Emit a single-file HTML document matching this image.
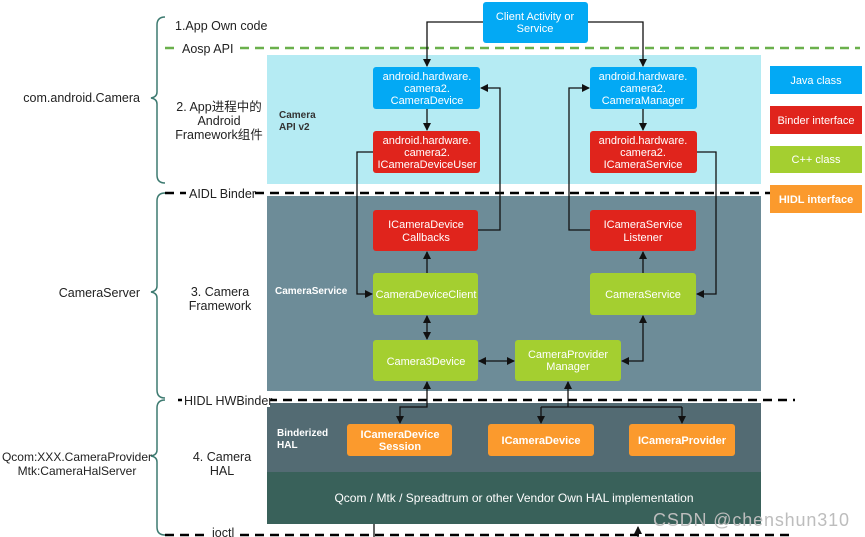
<!DOCTYPE html>
<html><head><meta charset="utf-8"><style>
html,body{margin:0;padding:0;background:#fff;}
svg{display:block;font-family:"Liberation Sans","Noto Sans CJK SC",sans-serif;}
</style></head><body>
<svg width="865" height="537" viewBox="0 0 865 537" xmlns="http://www.w3.org/2000/svg">
<defs>
<marker id="a" markerWidth="8" markerHeight="8" refX="7" refY="4" orient="auto" markerUnits="userSpaceOnUse">
<path d="M0,0 L8,4 L0,8 z" fill="#111"/></marker>
<marker id="s" markerWidth="8" markerHeight="8" refX="1" refY="4" orient="auto" markerUnits="userSpaceOnUse">
<path d="M8,0 L0,4 L8,8 z" fill="#111"/></marker>
</defs>
<rect x="267" y="55" width="494" height="129" fill="#b5ebf3"/>
<rect x="267" y="196" width="494" height="195" fill="#6d8c98"/>
<rect x="267" y="403" width="494" height="69" fill="#536b73"/>
<rect x="267" y="472" width="494" height="52" fill="#39615a"/>
<line x1="165" y1="48" x2="860" y2="48" stroke="#6ab04c" stroke-width="2.5" stroke-dasharray="9,6"/>
<line x1="165" y1="193" x2="860" y2="193" stroke="#000" stroke-width="2.5" stroke-dasharray="9,6"/>
<line x1="178" y1="400" x2="795" y2="400" stroke="#000" stroke-width="2.5" stroke-dasharray="9,6"/>
<line x1="165" y1="535" x2="795" y2="535" stroke="#000" stroke-width="2.5" stroke-dasharray="9,6"/>
<rect x="178" y="41" width="56" height="14" fill="#fff"/>
<rect x="186" y="186" width="68" height="14" fill="#fff"/>
<rect x="182" y="393" width="88" height="14" fill="#fff"/>
<rect x="210" y="529" width="28" height="8" fill="#fff"/>
<g fill="none" stroke="#3d7a70" stroke-width="1.5">
<path d="M165,17 Q157,17 157,25 L157,92 Q157,97 151,98 Q157,99 157,104 L157,175 Q157,183 165,183"/>
<path d="M165,193 Q157,193 157,201 L157,286 Q157,291 151,292 Q157,293 157,298 L157,390 Q157,398 165,398"/>
<path d="M165,400 Q157,400 157,408 L157,450 Q157,455 151,456 Q157,457 157,462 L157,527 Q157,535 165,535"/>
</g>
<g font-size="12.5" fill="#222">
<text x="175" y="30">1.App Own code</text>
<text x="182" y="53">Aosp API</text>
<text x="140" y="102" text-anchor="end">com.android.Camera</text>
<text x="219" y="111" text-anchor="middle">2. App进程中的</text>
<text x="219" y="125" text-anchor="middle">Android</text>
<text x="219" y="139" text-anchor="middle">Framework组件</text>
<text x="189" y="198">AIDL Binder</text>
<text x="140" y="297" text-anchor="end">CameraServer</text>
<text x="220" y="296" text-anchor="middle">3. Camera</text>
<text x="220" y="310" text-anchor="middle">Framework</text>
<text x="184" y="405">HIDL HWBinder</text>
<text x="77" y="461" text-anchor="middle" font-size="12">Qcom:XXX.CameraProvider</text>
<text x="77" y="475" text-anchor="middle" font-size="12">Mtk:CameraHalServer</text>
<text x="222" y="461" text-anchor="middle">4. Camera</text>
<text x="222" y="475" text-anchor="middle">HAL</text>
<text x="212" y="537">ioctl</text>
</g>
<g font-size="10" font-weight="bold">
<text x="279" y="118" fill="#333">Camera</text>
<text x="279" y="130" fill="#333">API v2</text>
<text x="275" y="294" fill="#fff">CameraService</text>
<text x="277" y="436" fill="#fff">Binderized</text>
<text x="277" y="448" fill="#fff">HAL</text>
</g>
<g stroke="#111" stroke-width="1.3" fill="none">
<path d="M483,22 H427 V66" marker-end="url(#a)"/>
<path d="M588,22 H643 V66" marker-end="url(#a)"/>
<path d="M427,109 V130" marker-end="url(#a)"/>
<path d="M643,109 V130" marker-end="url(#a)"/>
<path d="M373,152 H357 V294 H372" marker-end="url(#a)"/>
<path d="M478,230 H500 V88 H481" marker-end="url(#a)"/>
<path d="M427,273 V252" marker-end="url(#a)"/>
<path d="M590,230 H569 V88 H589" marker-end="url(#a)"/>
<path d="M697,152 H716 V294 H697" marker-end="url(#a)"/>
<path d="M643,273 V252" marker-end="url(#a)"/>
<path d="M427,316 V339" marker-start="url(#s)" marker-end="url(#a)"/>
<path d="M479,361 H514" marker-start="url(#s)" marker-end="url(#a)"/>
<path d="M622,361 H643 V316" marker-start="url(#s)" marker-end="url(#a)"/>
<path d="M427,382 V407 H400 V423" marker-start="url(#s)" marker-end="url(#a)"/>
<path d="M568,382 V407" marker-start="url(#s)"/>
<path d="M541,407 H682"/>
<path d="M541,407 V423" marker-end="url(#a)"/>
<path d="M682,407 V423" marker-end="url(#a)"/>
<path d="M374,524 V537"/>
<path d="M638,537 V527" marker-end="url(#a)"/>
</g>
<g font-size="11" fill="#fff" text-anchor="middle">
<rect x="483" y="2" width="105" height="41" rx="3" fill="#03a9f4"/>
<text x="535" y="20">Client Activity or</text><text x="535" y="32">Service</text>
<rect x="373" y="67" width="107" height="42" rx="3" fill="#03a9f4"/>
<text x="427" y="80">android.hardware.</text><text x="427" y="92">camera2.</text><text x="427" y="104">CameraDevice</text>
<rect x="590" y="67" width="107" height="42" rx="3" fill="#03a9f4"/>
<text x="643" y="80">android.hardware.</text><text x="643" y="92">camera2.</text><text x="643" y="104">CameraManager</text>
<rect x="373" y="131" width="107" height="42" rx="3" fill="#e0241c"/>
<text x="427" y="144">android.hardware.</text><text x="427" y="156">camera2.</text><text x="427" y="168">ICameraDeviceUser</text>
<rect x="590" y="131" width="107" height="42" rx="3" fill="#e0241c"/>
<text x="643" y="144">android.hardware.</text><text x="643" y="156">camera2.</text><text x="643" y="168">ICameraService</text>
<rect x="373" y="210" width="105" height="41" rx="3" fill="#e0241c"/>
<text x="426" y="228">ICameraDevice</text><text x="426" y="241">Callbacks</text>
<rect x="590" y="210" width="106" height="41" rx="3" fill="#e0241c"/>
<text x="643" y="228">ICameraService</text><text x="643" y="241">Listener</text>
<rect x="373" y="273" width="105" height="42" rx="3" fill="#a4cf30"/>
<text x="426" y="298">CameraDeviceClient</text>
<rect x="590" y="273" width="106" height="42" rx="3" fill="#a4cf30"/>
<text x="643" y="298">CameraService</text>
<rect x="373" y="340" width="105" height="41" rx="3" fill="#a4cf30"/>
<text x="426" y="365">Camera3Device</text>
<rect x="515" y="340" width="106" height="41" rx="3" fill="#a4cf30"/>
<text x="568" y="358">CameraProvider</text><text x="568" y="370">Manager</text>
<g font-weight="bold">
<rect x="347" y="424" width="105" height="32" rx="3" fill="#fb9a2d"/>
<text x="400" y="438">ICameraDevice</text><text x="400" y="450">Session</text>
<rect x="488" y="424" width="106" height="32" rx="3" fill="#fb9a2d"/>
<text x="541" y="444">ICameraDevice</text>
<rect x="629" y="424" width="106" height="32" rx="3" fill="#fb9a2d"/>
<text x="682" y="444">ICameraProvider</text>
</g>
<text x="514" y="502" font-size="12">Qcom / Mtk / Spreadtrum or other Vendor Own HAL  implementation</text>
<rect x="770" y="66" width="92" height="28" fill="#03a9f4"/><text x="816" y="84">Java class</text>
<rect x="770" y="106" width="92" height="28" fill="#e0241c"/><text x="816" y="124">Binder interface</text>
<rect x="770" y="146" width="92" height="27" fill="#a4cf30"/><text x="816" y="163">C++ class</text>
<rect x="770" y="185" width="92" height="28" fill="#fb9a2d"/><text x="816" y="203" font-weight="bold">HIDL interface</text>
</g>
<text x="653" y="526" font-size="18" fill="#bdbdbd" textLength="196">CSDN @chenshun310</text>
</svg>
</body></html>
